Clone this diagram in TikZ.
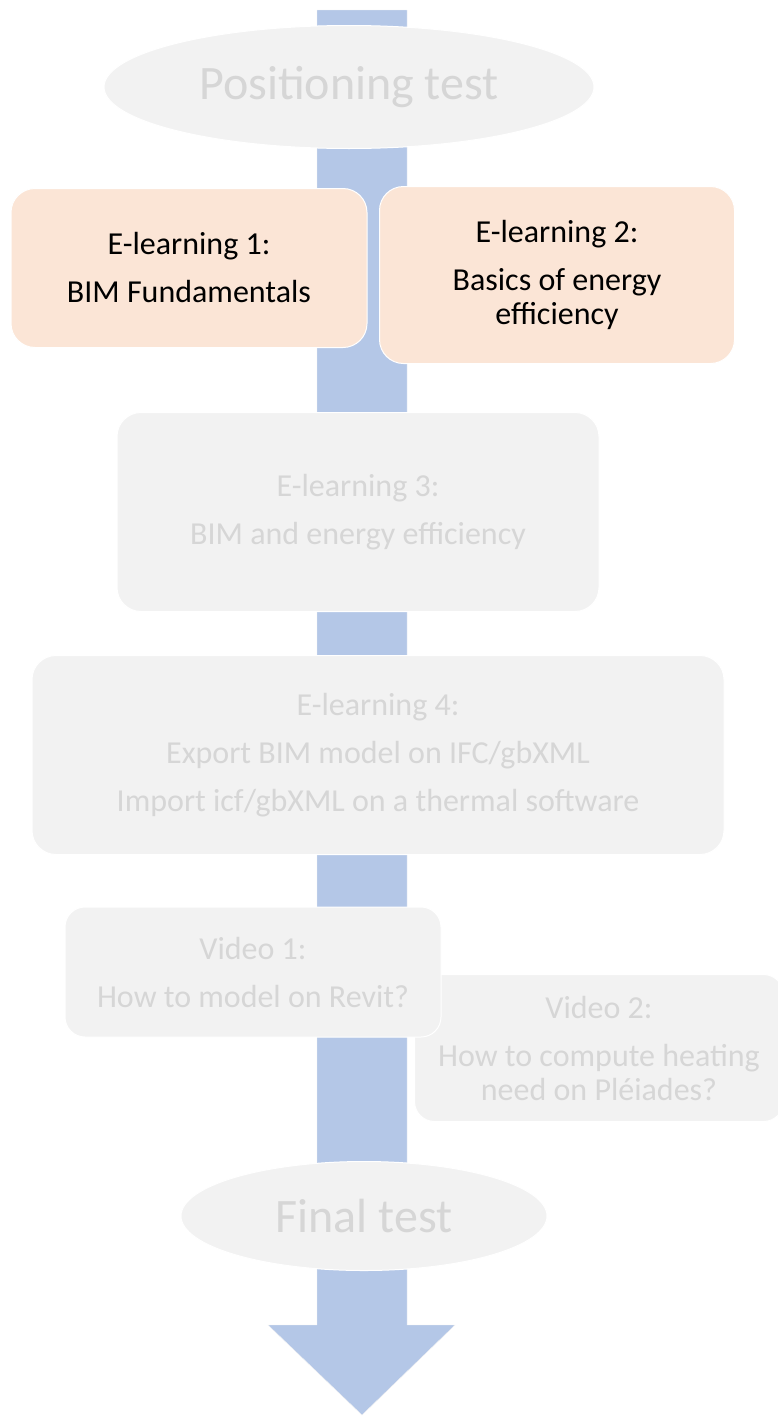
\documentclass[tikz,border=0pt]{standalone}
\usepackage{fontspec}
\setmainfont{Carlito}
\usetikzlibrary{shapes.geometric}
\definecolor{shaftblue}{HTML}{B4C7E7}
\definecolor{peach}{HTML}{FBE5D6}
\definecolor{paleGrey}{HTML}{F2F2F2}
\definecolor{fadeText}{HTML}{D6D6D6}

\begin{document}
\begin{tikzpicture}[x=1pt, y=-1pt,
  box/.style={rectangle, rounded corners=24pt, draw=white, line width=1pt, align=center, inner sep=0pt, font=\fontsize{32}{34}\selectfont},
  done/.style={box, fill=peach, text=black},
  todo/.style={box, fill=paleGrey, text=fadeText},
  exam/.style={ellipse, draw=white, line width=1pt, fill=paleGrey, text=fadeText, inner sep=0pt, font=\fontsize{48}{50}\selectfont}]
\useasboundingbox (0,0) rectangle (777,1416);
% big arrow behind everything
\coordinate (top) at (362,10);
\coordinate (tip) at (362,1415);
\fill[shaftblue, draw=paleGrey] (317,10) -- (407,10) -- (407,1325) -- (455,1325) -- (tip) -- (268,1325) -- (317,1325) -- cycle;
\node[exam, minimum width=490pt, minimum height=123pt] (PT) at (349,87) {Positioning test};
\node[done, minimum width=356pt, minimum height=159pt] (EL1) at (189,268) {E-learning 1:\\[14pt]BIM Fundamentals};
\node[done, minimum width=355pt, minimum height=177pt] (EL2) at (557,275) {E-learning 2:\\[14pt]Basics of energy\\efficiency};
\node[todo, minimum width=482pt, minimum height=199pt] (EL3) at (358,512) {E-learning 3:\\[14pt]BIM and energy efficiency};
\node[todo, minimum width=692pt, minimum height=199pt] (EL4) at (378,755) {E-learning 4:\\[14pt]Export BIM model on IFC/gbXML\\[14pt]Import icf/gbXML on a thermal software};
\node[todo, minimum width=369pt, minimum height=147pt, rounded corners=20pt] (V2) at (599,1048) {Video 2:\\[14pt]How to compute heating\\need on Pléiades?};
\node[todo, minimum width=376pt, minimum height=130pt, rounded corners=20pt] (V1) at (253,972) {Video 1:\\[14pt]How to model on Revit?};
\node[exam, minimum width=366pt, minimum height=109pt] (FT) at (364,1216) {Final test};
\end{tikzpicture}
\end{document}
